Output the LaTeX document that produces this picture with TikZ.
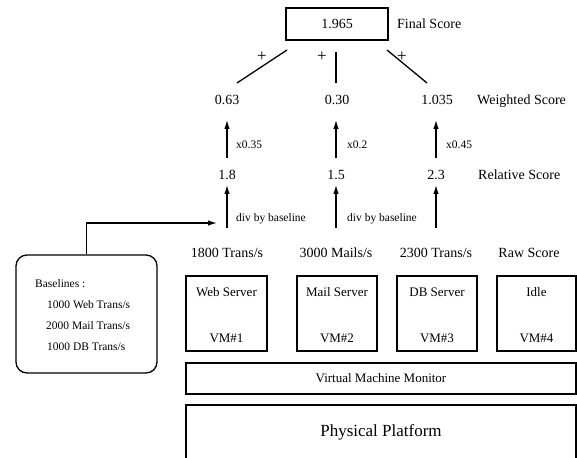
\documentclass[tikz,border=0pt]{standalone}
\usepackage{fontspec}
\setmainfont{Liberation Serif}
\usetikzlibrary{arrows.meta}
\begin{document}
\begin{tikzpicture}[x=1pt,y=-1pt,
  lbl/.style={inner sep=0pt,text height=9.5pt,text depth=0pt,font=\fontsize{14}{16}\selectfont},
  plus/.style={inner sep=0pt,font=\fontsize{17}{19}\selectfont},
  small/.style={inner sep=0pt,font=\fontsize{11.5}{13}\selectfont},
  vmtext/.style={inner sep=0pt,font=\fontsize{13}{15}\selectfont},
  boxline/.style={draw,line width=1.3pt},
  up/.style={-{Latex[length=9pt,width=5.5pt]},line width=1.3pt},
  link/.style={line width=1.3pt}]
\useasboundingbox (0,0) rectangle (577,457);

% final score
\node[boxline,minimum width=102pt,minimum height=32pt,lbl] (final) at (337,24) {1.965};
\node[lbl,anchor=west] (finallbl) at (397,24) {Final Score};

% weighted scores
\node[lbl] (w1) at (227,100) {0.63};
\node[lbl] (w2) at (337,100) {0.30};
\node[lbl] (w3) at (437,100) {1.035};
\node[lbl,anchor=west] (wlbl) at (477,100) {Weighted Score};

% sums into the final score
\coordinate (s1a) at (287,50); \coordinate (s1b) at (237,83);
\coordinate (s2a) at (336,52); \coordinate (s2b) at (336,83);
\coordinate (s3a) at (387,50); \coordinate (s3b) at (427,83);
\draw[link] (s1a) -- (s1b);
\draw[link] (s2a) -- (s2b);
\draw[link] (s3a) -- (s3b);
\node[plus] (p1) at (262,57) {+};
\node[plus] (p2) at (322,57) {+};
\node[plus] (p3) at (402,57) {+};

% relative scores
\node[lbl] (r1) at (227,175) {1.8};
\node[lbl] (r2) at (336,175) {1.5};
\node[lbl] (r3) at (436,175) {2.3};
\node[lbl,anchor=west] (rlbl) at (478,175) {Relative Score};

% weighting arrows
\draw[up,shorten <=12pt,shorten >=15pt] (r1.north) -- (r1.north |- w1.south);
\draw[up,shorten <=12pt,shorten >=15pt] (r2.north) -- (r2.north |- w2.south);
\draw[up,shorten <=12pt,shorten >=15pt] (r3.north) -- (r3.north |- w3.south);
\node[small,anchor=west] (k1) at (236,145) {x0.35};
\node[small,anchor=west] (k2) at (347,145) {x0.2};
\node[small,anchor=west] (k3) at (446,145) {x0.45};

% raw scores
\node[lbl] (a1) at (227,253) {1800 Trans/s};
\node[lbl] (a2) at (336,253) {3000 Mails/s};
\node[lbl] (a3) at (436,253) {2300 Trans/s};
\node[lbl] (albl) at (529,253) {Raw Score};

% normalisation arrows
\draw[up,shorten <=20pt,shorten >=5pt] (a1.north -| r1) -- (r1.south);
\draw[up,shorten <=20pt,shorten >=5pt] (a2.north -| r2) -- (r2.south);
\draw[up,shorten <=20pt,shorten >=5pt] (a3.north -| r3) -- (r3.south);
\node[small,anchor=west] (d1) at (236,219) {div by baseline};
\node[small,anchor=west] (d2) at (347,219) {div by baseline};

% baselines
\node[draw,line width=1.3pt,rounded corners=11pt,minimum width=141pt,minimum height=118pt] (base) at (86.5,314) {};
\node[small,anchor=west] (b0) at (35,284) {Baselines :};
\node[small,anchor=west] (b1) at (47,305) {1000 Web Trans/s};
\node[small,anchor=west] (b2) at (46,326) {2000 Mail Trans/s};
\node[small,anchor=west] (b3) at (47,347) {1000 DB Trans/s};
\coordinate (bend) at (base.north |- 0,223);
\coordinate (btip) at (217,223);
\draw[up] (base.north) -- (bend) -- (btip);

% virtual machines
\node[boxline,minimum width=81pt,minimum height=75pt] (vm1) at (226.5,313.5) {};
\node[boxline,minimum width=80pt,minimum height=75pt] (vm2) at (337,313.5) {};
\node[boxline,minimum width=80pt,minimum height=75pt] (vm3) at (437,313.5) {};
\node[boxline,minimum width=79pt,minimum height=75pt] (vm4) at (536.5,313.5) {};
\foreach \v/\t/\n in {vm1/Web Server/1,vm2/Mail Server/2,vm3/DB Server/3,vm4/Idle/4}{
  \node[vmtext] at ([yshift=-17pt]\v.north) {\t};
  \node[vmtext] at ([yshift=13pt]\v.south) {VM\#\n};
}

\node[boxline,minimum width=390pt,minimum height=31pt,vmtext] (vmm) at (381,378.5) {Virtual Machine Monitor};
\node[boxline,minimum width=390pt,minimum height=66pt] (phys) at (381,438) {};
\node[inner sep=0pt,font=\fontsize{17}{19}\selectfont] (physlbl) at (381,432) {Physical Platform};
\end{tikzpicture}
\end{document}
